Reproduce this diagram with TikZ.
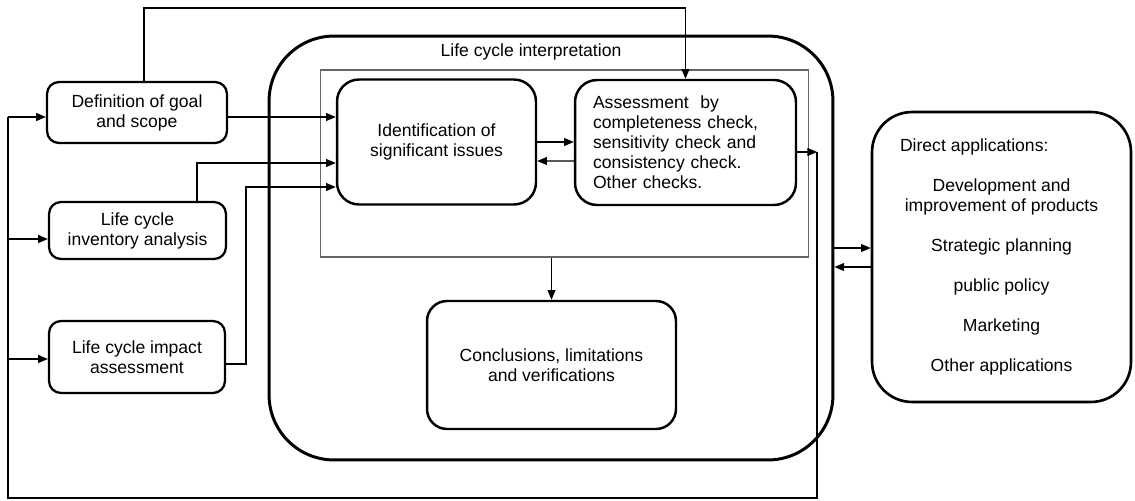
\documentclass[tikz,border=0pt]{standalone}
\usepackage{fontspec}
\setmainfont{Liberation Sans}
\usetikzlibrary{arrows.meta,positioning,calc}

\begin{document}
\begin{tikzpicture}[
  x=0.02cm, y=-0.02cm,
  every node/.style={font=\fontsize{10}{11.4}\selectfont, inner sep=0pt},
  box/.style={draw, line width=1.3pt, rounded corners=0.24cm, align=center},
  bigbox/.style={draw, line width=1.4pt, rounded corners=0.44cm, align=center},
  arr/.style={-{Triangle[length=5.5pt,width=4.5pt]}, line width=0.6pt},
  wire/.style={line width=0.6pt}
]
  \useasboundingbox (0,0) rectangle (1135,500);

  % levels used by the wires
  \coordinate (top) at (0,8);
  \coordinate (r1) at (0,117);
  \coordinate (r2) at (0,239);
  \coordinate (r3) at (0,359);
  \coordinate (lc) at (197,163);
  \coordinate (ia) at (246,187);
  \coordinate (fb) at (817,152);
  \coordinate (low) at (8,498);

  % interpretation frame
  \node[draw, line width=1.7pt, rounded corners=1.3cm, minimum width=11.28cm,
        minimum height=8.48cm] (interp) at (551,248) {};
  \node (title) at (531,52) {Life cycle interpretation};
  \node[draw=gray!80!black, line width=0.6pt, minimum width=9.78cm,
        minimum height=3.74cm] (grp) at (564.5,163.5) {};

  \node[box, minimum width=3.6cm, minimum height=1.22cm] (defn) at (137,112.5)
    {Definition of goal\\and scope};
  \node[box, minimum width=3.54cm, minimum height=1.14cm] (lci) at (137.5,230.5)
    {Life cycle\\inventory analysis};
  \node[box, minimum width=3.52cm, minimum height=1.44cm] (lcia) at (137,357)
    {Life cycle impact\\assessment};

  \node[bigbox, minimum width=3.98cm, minimum height=2.5cm] (ident) at (436.5,142)
    {Identification of\\significant issues};
  \node[bigbox, minimum width=4.42cm, minimum height=2.5cm, text width=3.7cm,
        align=left] (assess) at (685.5,142.5)
    {Assessment\ \ by\\completeness check,\\sensitivity check and\\consistency check.\\Other checks.};
  \node[bigbox, rounded corners=0.4cm, minimum width=4.98cm, minimum height=2.56cm]
    (concl) at (551.5,365) {Conclusions, limitations\\and verifications};

  \node[bigbox, line width=1.5pt, rounded corners=0.8cm, minimum width=5.18cm,
        minimum height=5.8cm] (direct) at (1001.5,257)
    {\makebox[4.06cm][l]{Direct applications:}\\[0.4cm]
     Development and\\improvement of products\\[0.4cm]
     Strategic planning\\[0.4cm]
     public policy\\[0.4cm]
     Marketing\\[0.4cm]
     Other applications};

  \draw[arr] ([xshift=0.14cm]defn.north) |- (assess.north |- top) -- (assess.north);
  \draw[arr] (defn.east |- r1) -- (ident.west |- r1);
  \draw[arr] (lci.north -| lc) -- (lc) -- (ident.west |- lc);
  \draw[arr] (lcia.east |- 0,364) -| (ia) -- (ident.west |- ia);
  \draw[arr] (ident.east) -- (assess.west |- ident.east);
  \draw[arr] ([yshift=-0.37cm]assess.west) -- (ident.east |- 0,161);
  \draw[arr] (grp.south -| concl.north) -- (concl.north);

  % feedback loop
  \draw[arr] (assess.east |- fb) -- (fb);
  \draw[wire] (fb) |- (low) -- (low |- r1);
  \draw[arr] (low |- r1) -- (defn.west |- r1);
  \draw[arr] (low |- r2) -- (lci.west |- r2);
  \draw[arr] (low |- r3) -- (lcia.west |- r3);

  \draw[arr] (interp.east) -- (direct.west |- interp.east);
  \draw[arr] (direct.west |- 0,267) -- (interp.east |- 0,267);
\end{tikzpicture}
\end{document}
